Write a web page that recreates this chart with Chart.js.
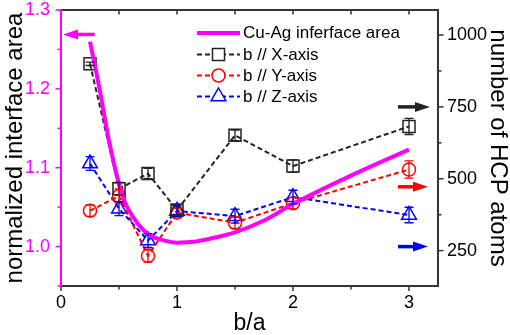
<!DOCTYPE html>
<html>
<head>
<meta charset="utf-8">
<script src="https://cdn.jsdelivr.net/npm/chart.js@4/dist/chart.umd.min.js"></script>
<style>
  html, body { margin: 0; padding: 0; background: #fff; }
  #wrap { width: 510px; height: 335px; position: relative; }
</style>
</head>
<body>
<div id="wrap"><canvas id="c" width="510" height="335"></canvas></div>
<script>
// ---------------- data ----------------
const seriesNames = ['Cu-Ag inferface area', 'b // X-axis', 'b // Y-axis', 'b // Z-axis'];
const ratioValues = [0.25, 0.5, 0.75, 1, 1.5, 2, 3];
const hcpX = [900, 465, 518, 391, 651, 544, 682];
const hcpY = [389, 440, 232, 382, 347, 415, 532];
const hcpZ = [553, 396, 285, 388, 370, 436, 374];
const errX = [6, 22, 18, 15, 18, 22, 28];
const errY = [20, 25, 22, 15, 20, 20, 30];
const errZ = [24, 24, 24, 20, 24, 24, 27];
const curveX = [0.25, 0.336, 0.414, 0.494, 0.552, 0.623, 0.71, 0.796, 0.882, 1.0, 1.141, 1.284, 1.5, 1.75, 2.0, 2.5, 3.0];
const curveY = [1.260, 1.197, 1.134, 1.083, 1.056, 1.037, 1.021, 1.012, 1.008, 1.005, 1.006, 1.010, 1.018, 1.033, 1.054, 1.090, 1.123];
const xTickLabels = ['0', '1', '2', '3'];
const leftTickLabels = ['1.0', '1.1', '1.2', '1.3'];
const rightTickLabels = ['250', '500', '750', '1000'];
// arrows pointing to the axis each series belongs to
const arrowSeries = [0, 1, 2, 3];
const arrowLevel = [1.269, 750, 472, 264];
const arrowTail = [0.29, 2.905, 2.905, 2.905];
const arrowHead = [0.017, 3.181, 3.164, 3.164];

// ---------------- styles ----------------
const MAG = '#ff00ff', BLK = '#222222', RED = '#ff0000', BLU = '#0000ff';
const FONT = '"Liberation Sans", Arial, sans-serif';
const seriesColors = [MAG, BLK, RED, BLU];

function pts(xs, ys) { return xs.map((x, i) => ({ x: x, y: ys[i] })); }

const hcpSets = [hcpX, hcpY, hcpZ];
const errSets = [errX, errY, errZ];

function drawShape(ctx, style, r, x, y) {
  if (style === 'rect') {
    const s = Math.SQRT1_2 * r;
    ctx.rect(x - s, y - s, 2 * s, 2 * s);
  } else if (style === 'circle') {
    ctx.arc(x, y, r, 0, Math.PI * 2);
  } else {
    ctx.moveTo(x, y - r);
    ctx.lineTo(x + 0.866 * r, y + 0.5 * r);
    ctx.lineTo(x - 0.866 * r, y + 0.5 * r);
    ctx.closePath();
  }
}

const frame = {
  id: 'frame',
  afterDatasetsDraw(chart) {
    const ctx = chart.ctx;
    const a = chart.chartArea;
    const sx = chart.scales.x, sl = chart.scales.yL, sr = chart.scales.yR;
    ctx.save();
    // error bars
    for (let d = 1; d <= 3; d++) {
      const meta = chart.getDatasetMeta(d);
      const vals = hcpSets[d - 1], errs = errSets[d - 1];
      ctx.strokeStyle = seriesColors[d];
      ctx.lineWidth = 1.3;
      ctx.setLineDash([]);
      meta.data.forEach((p, i) => {
        const y1 = sr.getPixelForValue(vals[i] - errs[i]);
        const y2 = sr.getPixelForValue(vals[i] + errs[i]);
        ctx.beginPath();
        ctx.moveTo(p.x, y1); ctx.lineTo(p.x, y2);
        ctx.moveTo(p.x - 4.5, y1); ctx.lineTo(p.x + 4.5, y1);
        ctx.moveTo(p.x - 4.5, y2); ctx.lineTo(p.x + 4.5, y2);
        ctx.stroke();
      });
    }
    // frame lines
    ctx.lineWidth = 2;
    ctx.strokeStyle = '#333';
    ctx.beginPath();
    ctx.moveTo(a.left, a.top); ctx.lineTo(a.right, a.top);
    ctx.moveTo(a.right, a.top - 1); ctx.lineTo(a.right, a.bottom + 1);
    ctx.moveTo(a.left, a.bottom); ctx.lineTo(a.right + 1, a.bottom);
    ctx.stroke();
    // x ticks (bottom outward, top inward)
    ctx.lineWidth = 1.5;
    sx.ticks.forEach(t => {
      const x = sx.getPixelForValue(t.value);
      const major = Math.abs(t.value - Math.round(t.value)) < 1e-6;
      const L = major ? 5 : 3.5;
      ctx.beginPath();
      ctx.moveTo(x, a.bottom); ctx.lineTo(x, a.bottom + L);
      if (x > a.left + 2) { ctx.moveTo(x, a.top); ctx.lineTo(x, a.top + 4.5); }
      ctx.stroke();
    });
    // right ticks outward
    sr.ticks.forEach(t => {
      const y = sr.getPixelForValue(t.value);
      const major = t.value % 250 === 0;
      ctx.beginPath();
      ctx.moveTo(a.right, y); ctx.lineTo(a.right + (major ? 5.5 : 3.5), y);
      ctx.stroke();
    });
    // left axis magenta
    ctx.strokeStyle = MAG;
    ctx.lineWidth = 2;
    ctx.beginPath();
    ctx.moveTo(a.left, a.top - 1); ctx.lineTo(a.left, a.bottom + 1);
    ctx.stroke();
    ctx.lineWidth = 1.5;
    sl.ticks.forEach(t => {
      const y = sl.getPixelForValue(t.value);
      const major = Math.abs(t.value * 10 - Math.round(t.value * 10)) < 1e-6;
      ctx.beginPath();
      ctx.moveTo(a.left, y); ctx.lineTo(a.left - (major ? 5.5 : 3.5), y);
      ctx.stroke();
    });
    // arrows
    arrowSeries.forEach((s, i) => {
      const scale = s === 0 ? sl : sr;
      const y = scale.getPixelForValue(arrowLevel[i]);
      const x0 = sx.getPixelForValue(arrowTail[i]);
      const x1 = sx.getPixelForValue(arrowHead[i]);
      const dir = x1 > x0 ? 1 : -1;
      const hl = 15, hw = 5;
      ctx.strokeStyle = seriesColors[s];
      ctx.fillStyle = seriesColors[s];
      ctx.lineWidth = 3.5;
      ctx.beginPath();
      ctx.moveTo(x0, y); ctx.lineTo(x1 - dir * hl + dir * 2, y);
      ctx.stroke();
      ctx.beginPath();
      ctx.moveTo(x1, y);
      ctx.lineTo(x1 - dir * hl, y - hw);
      ctx.lineTo(x1 - dir * hl, y + hw);
      ctx.closePath();
      ctx.fill();
    });
    // legend
    const lx0 = a.left + 136, lx1 = a.left + 179, tx = a.left + 182;
    const rowY = [a.top + 23, a.top + 44.5, a.top + 65.5, a.top + 86.5];
    ctx.font = '17px ' + FONT;
    ctx.textBaseline = 'middle';
    ctx.textAlign = 'left';
    chart.data.datasets.forEach((ds, i) => {
      const y = rowY[i];
      ctx.strokeStyle = ds.borderColor;
      ctx.lineWidth = ds.borderWidth;
      ctx.setLineDash(ds.borderDash || []);
      ctx.beginPath();
      ctx.moveTo(lx0, y); ctx.lineTo(lx1, y);
      ctx.stroke();
      ctx.setLineDash([]);
      if (i > 0) {
        ctx.fillStyle = '#fff';
        ctx.strokeStyle = ds.pointBorderColor;
        ctx.lineWidth = ds.pointBorderWidth;
        ctx.beginPath();
        drawShape(ctx, ds.pointStyle, ds.pointRadius, (lx0 + lx1) / 2, y);
        ctx.fill();
        ctx.stroke();
      }
      ctx.fillStyle = '#000';
      ctx.fillText(ds.label, tx, y + 0.5);
    });
    ctx.restore();
  }
};

const hcpStyle = (label, vals, color, style, radius) => ({
  type: 'line',
  label: label,
  data: pts(ratioValues, vals),
  yAxisID: 'yR',
  borderColor: color,
  borderWidth: 2,
  borderDash: [5, 3],
  pointStyle: style,
  pointRadius: radius,
  pointHoverRadius: radius,
  pointBorderColor: color,
  pointBackgroundColor: 'rgba(255,255,255,0)',
  pointBorderWidth: 1.5,
  tension: 0
});

new Chart(document.getElementById('c'), {
  type: 'line',
  data: {
    datasets: [
      {
        label: seriesNames[0],
        data: pts(curveX, curveY),
        yAxisID: 'yL',
        borderColor: MAG,
        borderWidth: 4,
        pointRadius: 0,
        cubicInterpolationMode: 'monotone'
      },
      hcpStyle(seriesNames[1], hcpX, BLK, 'rect', 8.5),
      hcpStyle(seriesNames[2], hcpY, RED, 'circle', 6.5),
      hcpStyle(seriesNames[3], hcpZ, BLU, 'triangle', 8.5)
    ]
  },
  options: {
    responsive: false,
    animation: false,
    devicePixelRatio: 1,
    layout: { padding: { top: 9, left: 0, right: 0, bottom: 0 } },
    plugins: { legend: { display: false }, tooltip: { enabled: false } },
    scales: {
      x: {
        type: 'linear', position: 'bottom', min: 0, max: 3.25,
        grid: { display: false, drawTicks: false },
        border: { display: false },
        ticks: {
          stepSize: 0.5, includeBounds: false, autoSkip: false, maxRotation: 0, padding: 6,
          color: '#000', font: { size: 18, family: FONT },
          callback: v => { const s = String(Math.round(v)); return (Math.abs(v - Math.round(v)) < 1e-6 && xTickLabels.includes(s)) ? s : ''; }
        },
        title: { display: true, text: 'b/a', color: '#000', font: { size: 23, family: FONT, lineHeight: 1 }, padding: { top: 0, bottom: 0 } },
        afterFit: s => { s.height = 49; s.paddingLeft = 0; s.paddingRight = 0; }
      },
      yL: {
        type: 'linear', position: 'left', min: 0.95, max: 1.3,
        grid: { display: false, drawTicks: false },
        border: { display: false },
        ticks: {
          stepSize: 0.05, includeBounds: false, autoSkip: false, padding: 11,
          color: MAG, font: { size: 18, family: FONT },
          callback: v => { const s = v.toFixed(1); return (Math.abs(v * 10 - Math.round(v * 10)) < 1e-6 && leftTickLabels.includes(s)) ? s : ''; }
        },
        title: { display: true, text: 'normalized interface area', color: '#000', font: { size: 24, family: FONT, lineHeight: 1 }, padding: { top: 3, bottom: 0 } },
        afterFit: s => { s.width = 61; s.paddingTop = 0; s.paddingBottom = 0; }
      },
      yR: {
        type: 'linear', position: 'right', min: 127, max: 1087,
        grid: { display: false, drawTicks: false },
        border: { display: false },
        ticks: {
          stepSize: 125, includeBounds: false, autoSkip: false, padding: 9,
          color: '#000', font: { size: 18, family: FONT },
          callback: v => { const s = String(v); return rightTickLabels.includes(s) ? s : ''; }
        },
        title: { display: true, text: 'number of HCP atoms', color: '#000', font: { size: 24, family: FONT, lineHeight: 1 }, padding: { top: 0, bottom: 0 } },
        afterFit: s => { s.width = 72; s.paddingTop = 0; s.paddingBottom = 0; }
      }
    }
  },
  plugins: [frame]
});
</script>
</body>
</html>
